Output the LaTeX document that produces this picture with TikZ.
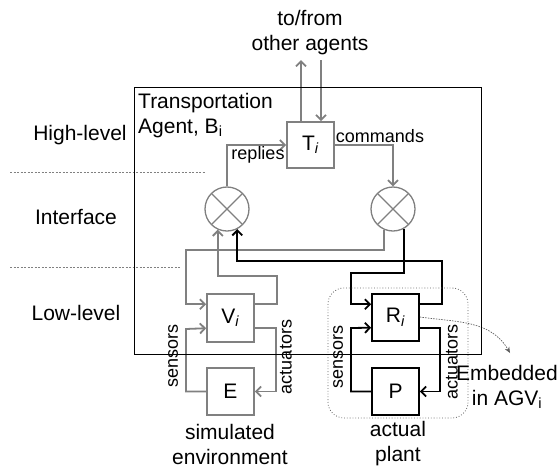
\documentclass[tikz,border=0pt]{standalone}
\usepackage{fontspec}
\setmainfont{Liberation Sans}
\usetikzlibrary{arrows.meta,calc}
\definecolor{lg}{RGB}{128,128,128}
\definecolor{dg}{RGB}{95,95,95}
\begin{document}
\begin{tikzpicture}[x=1pt,y=1pt,
  big/.style={font=\fontsize{21}{25}\selectfont,inner sep=0pt},
  small/.style={font=\fontsize{18}{21}\selectfont,inner sep=0pt},
  gbox/.style={draw=lg,line width=1.6pt,minimum width=47pt,minimum height=47pt,inner sep=0pt,font=\fontsize{21}{25}\selectfont},
  bbox/.style={gbox,draw=black},
  mix/.style={circle,draw=lg,line width=1.3pt,minimum size=44pt,inner sep=0pt,
    path picture={\draw[lg,line width=1.3pt] (path picture bounding box.north west)--(path picture bounding box.south east) (path picture bounding box.north east)--(path picture bounding box.south west);}},
  gl/.style={draw=lg,line width=1.8pt,-{Straight Barb[length=5pt,width=10pt,line width=1.8pt]}},
  bl/.style={gl,draw=black},
  sep/.style={draw=lg,dash pattern=on 2pt off 1.5pt,line width=0.6pt},
  emb/.style={draw=dg,dash pattern=on 1.5pt off 1.2pt,line width=0.7pt,-{Stealth[length=6pt,width=5pt]}},
  agentbox/.style={draw=black,line width=0.8pt,minimum width=347pt,minimum height=267pt,inner sep=0pt}
]
\useasboundingbox (0,0) rectangle (557,-472);

% separators
\draw[sep] (10,-172) -- (205,-172);
\draw[sep] (10,-267) -- (180,-267);

% level labels
\node[big] (hl) at (80,-135) {High-level};
\node[big] (itf) at (76,-217) {Interface};
\node[big] (ll) at (76,-313) {Low-level};

% title
\node[big,anchor=west,align=left] (title) at (138,-115.5) {Transportation\\[0pt]Agent, B\textsubscript{i}};
\node[big,align=center] (others) at (310,-33) {to/from\\other agents};

% nodes
\node[gbox,minimum height=46pt] (T) at (310.5,-145) {T\textsubscript{\textit{i}}};
\node[mix] (Cl) at (227,-209) {};
\node[mix] (Cr) at (393,-209) {};
\node[gbox,minimum height=48pt] (V) at (230.5,-318) {V\textsubscript{\textit{i}}};
\node[gbox] (E) at (230.5,-391.5) {E};
\node[bbox] (R) at (395.5,-317.5) {R\textsubscript{\textit{i}}};
\node[bbox] (P) at (395.5,-391.5) {P};

% top arrows
\coordinate (upE) at (301,-60);
\coordinate (dnS) at (321,-60);
\draw[gl] (T.north -| upE) -- (upE);
\draw[gl] (dnS) -- (T.north -| dnS);

\draw[gl] (Cl.north) |- (T.west);
\draw[gl] (T.east) -| (Cr.north);
\node[small] (rep) at (258,-155) {replies};
\node[small] (com) at (380,-136) {commands};

% gray interface routes
\draw[gl] (Cr.246) |- (186,-250) |- ([yshift=-11pt]V.north west);
\draw[gl] ([yshift=-11pt]V.north east) -| (277,-276) -| (Cl.246);

% black interface routes
\draw[bl] ([yshift=-11pt]R.north east) -| (442,-261) -| (Cl.297);
\draw[bl] (Cr.300) |- (351,-273) |- ([yshift=-11pt]R.north west);

% simulated loop
\draw[gl] (E.west) -| (186,-329) -- ([yshift=-35pt]V.north west);
\draw[gl] ([yshift=-35pt]V.north east) -| (276,-360) |- (E.east);
\node[small,rotate=90] (s1) at (173,-356) {sensors};
\node[small,rotate=90] (a1) at (286,-357) {actuators};

% actual loop
\draw[bl] (P.west) -| (351,-328) -- ([yshift=-34.5pt]R.north west);
\draw[bl] ([yshift=-34.5pt]R.north east) -| (440,-360) |- (P.east);
\node[small,rotate=90] (s2) at (338,-357) {sensors};
\node[small,rotate=90] (a2) at (452,-362) {actuators};

% embedded
\draw[draw=dg,dotted,line width=0.8pt,rounded corners=16pt] (328,-288) rectangle (468,-418);
\coordinate (embT) at (510,-353);
\draw[emb] (R.east |- 0,-317) to[out=-8,in=120] (embT);
\node[big,align=center] (embtxt) at (507,-387) {Embedded\\in AGV\textsubscript{i}};

% bottom labels
\node[big,align=center] (simenv) at (230,-444) {simulated\\environment};
\node[big,align=center] (actpl) at (398,-444) {actual\\plant};

% agent frame
\node[agentbox] (agent) at (307.5,-220.5) {};
\end{tikzpicture}
\end{document}
